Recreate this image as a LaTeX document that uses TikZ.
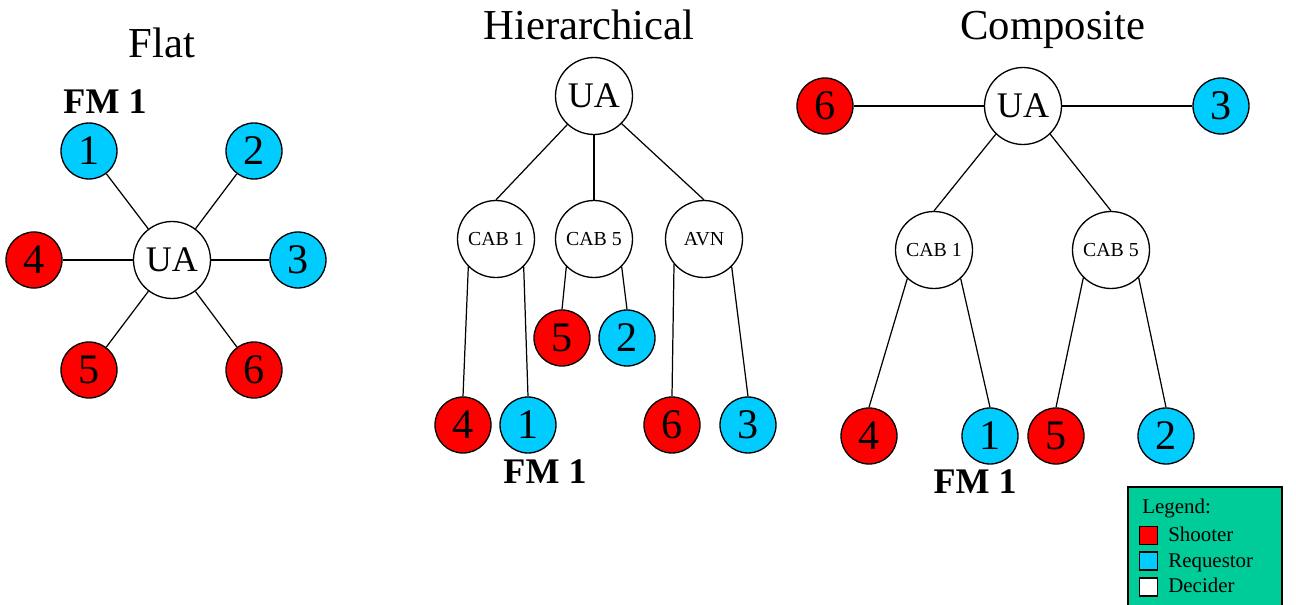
\documentclass[tikz,border=0pt]{standalone}
\usepackage{fontspec}
\setmainfont{Liberation Serif}
\definecolor{shoot}{RGB}{255,0,0}
\definecolor{req}{RGB}{0,204,255}
\definecolor{leg}{RGB}{0,204,153}
\begin{document}
\begin{tikzpicture}[x=0.02cm,y=-0.02cm,
  leaf/.style={circle,draw,line width=0.75pt,minimum size=1.12cm,inner sep=0pt,font=\fontsize{24}{24}\selectfont},
  shooter/.style={leaf,fill=shoot},
  requestor/.style={leaf,fill=req},
  decider/.style={circle,draw,fill=white,line width=0.75pt,minimum size=1.54cm,inner sep=0pt,font=\fontsize{20.5}{20.5}\selectfont},
  cab/.style={decider,font=\fontsize{11.3}{11.3}\selectfont},
  title/.style={anchor=base,inner sep=0pt,font=\fontsize{24.3}{24.3}\selectfont},
  fm/.style={anchor=base,inner sep=0pt,font=\fontsize{20.5}{20.5}\selectfont\bfseries},
  link/.style={line width=0.7pt},
  legtext/.style={anchor=base west,inner sep=0pt,font=\fontsize{11.9}{11.9}\selectfont},
  legbox/.style={draw,line width=0.7pt,minimum size=0.36cm,inner sep=0pt}]
\clip (0,0) rectangle (1296,605);
% ---------- Flat ----------
\node[title] (tflat) at (162,57) {Flat};
\node[fm] (fmflat) at (105,113) {FM 1};
\node[decider] (fUA) at (172,260) {UA};
\node[requestor] (f1) at (89,151) {1};
\node[requestor] (f2) at (254,151) {2};
\node[requestor] (f3) at (298,260) {3};
\node[shooter] (f4) at (34,260) {4};
\node[shooter] (f5) at (89,370) {5};
\node[shooter] (f6) at (254,370) {6};
\foreach \n in {f1,f2,f3,f4,f5,f6} \draw[link] (fUA) -- (\n);
% ---------- Hierarchical ----------
\node[title] (thier) at (589,39) {Hierarchical};
\node[decider] (hUA) at (594,96) {UA};
\node[cab] (hC1) at (496,239) {CAB 1};
\node[cab] (hC5) at (594,239) {CAB 5};
\node[cab] (hAV) at (704,239) {AVN};
\node[shooter] (h5) at (562,338) {5};
\node[requestor] (h2) at (627,338) {2};
\node[shooter] (h4) at (463,425) {4};
\node[requestor] (h1) at (528,425) {1};
\node[shooter] (h6) at (672,425) {6};
\node[requestor] (h3) at (748,425) {3};
\node[fm] (fmhier) at (545,483) {FM 1};
\draw[link] (hUA.-133) -- (hC1.north);
\draw[link] (hUA.south) -- (hC5.north);
\draw[link] (hUA.-45) -- (hAV.north);
\draw[link] (hC1.-135) -- (h4.north);
\draw[link] (hC1.-45) -- (h1.north);
\draw[link] (hC5.-135) -- (h5.north);
\draw[link] (hC5.-45) -- (h2.north);
\draw[link] (hAV.-140) -- (h6.north);
\draw[link] (hAV.-45) -- (h3.north);
% ---------- Composite ----------
\node[title] (tcomp) at (1053,39) {Composite};
\node[decider] (cUA) at (1023,106) {UA};
\node[shooter] (c6) at (825,106) {6};
\node[requestor] (c3) at (1221,106) {3};
\node[cab] (cC1) at (934,250) {CAB 1};
\node[cab] (cC5) at (1111,250) {CAB 5};
\node[shooter] (c4) at (869,436) {4};
\node[requestor] (c1) at (990,436) {1};
\node[shooter] (c5) at (1056,436) {5};
\node[requestor] (c2) at (1166,436) {2};
\node[fm] (fmcomp) at (975,493) {FM 1};
\draw[link] (cUA) -- (c6);
\draw[link] (cUA) -- (c3);
\draw[link] (cUA.-134) -- (cC1.north);
\draw[link] (cUA.-46) -- (cC5.north);
\draw[link] (cC1.-133) -- (c4.north);
\draw[link] (cC1.-47) -- (c1.north);
\draw[link] (cC5.-135) -- (c5.north);
\draw[link] (cC5.-45) -- (c2.north);
% ---------- Legend ----------
\path[draw,fill=leg,line width=0.8pt] (1128,487) rectangle (1282,615);
\node[legtext] (lgt) at (1142,513) {Legend:};
\node[legbox,fill=shoot] (lsq1) at (1148.5,535.5) {};
\node[legbox,fill=req] (lsq2) at (1148.5,561) {};
\node[legbox,fill=white] (lsq3) at (1148.5,587) {};
\node[legtext] (ls) at (1168,541) {Shooter};
\node[legtext] (lr) at (1168,567) {Requestor};
\node[legtext] (ld) at (1168,592) {Decider};
\end{tikzpicture}
\end{document}
